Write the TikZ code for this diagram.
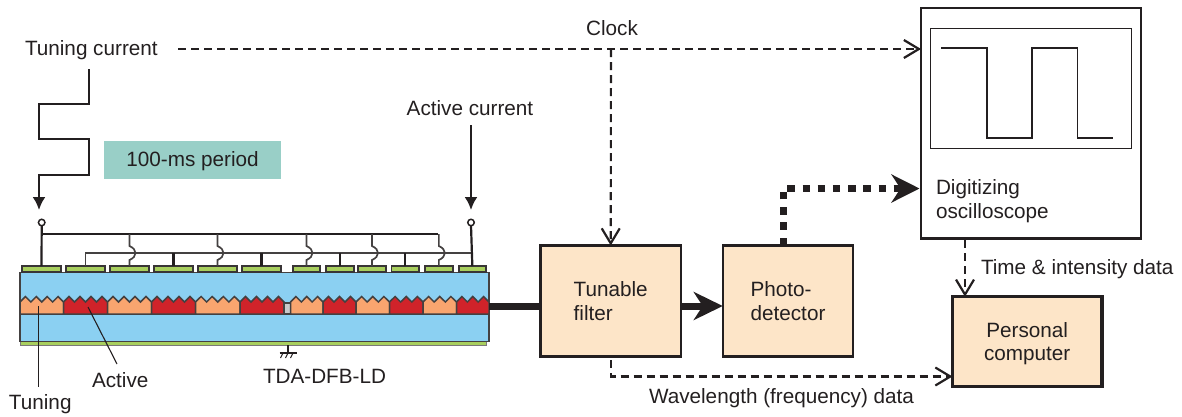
\documentclass[tikz,border=0pt]{standalone}
\usepackage{fontspec}
\setmainfont{Liberation Sans}
\usetikzlibrary{arrows.meta,calc}
\definecolor{ink}{HTML}{231F20}
\definecolor{boxfill}{HTML}{FDE5C8}
\definecolor{tealfill}{HTML}{99CFC7}
\definecolor{chipblue}{HTML}{8BD0F2}
\definecolor{padgreen}{HTML}{A8CF5E}
\definecolor{tuneorange}{HTML}{F9A56F}
\definecolor{activered}{HTML}{D0232A}
\definecolor{gapgrey}{HTML}{C8C9CB}
\tikzset{
  every node/.style={inner sep=0pt,outer sep=0pt,text=ink,font=\fontsize{20.7}{23.5}\selectfont},
  label/.style={anchor=west,align=left},
  procbox/.style={draw=ink,line width=2.2pt,fill=boxfill,align=left},
  padbox/.style={draw=ink!90,line width=1.6pt,fill=padgreen},
  terminal/.style={circle,draw=ink,line width=1.5pt,fill=white,minimum size=6.5pt},
  dataflow/.style={draw=ink,line width=2.1pt,dash pattern=on 8pt off 5pt,
    -{Straight Barb[length=15pt,width=18pt,line width=2.2pt]}},
  wire/.style={draw=ink,line width=2.2pt},
  thinwire/.style={draw=ink!85,line width=1.7pt},
  solidtip/.style={-{Latex[length=13pt,width=13pt]}},
  segline/.style={draw=ink!85,line width=1.5pt,line join=miter},
}
\newcommand{\gratseg}[4]{%
  \pgfmathsetmacro{\segstep}{(#2-#1)/#3}
  \filldraw[segline,fill=#4] (#1,314) -- (#1,302)
    \foreach \i in {1,...,#3} { -- ({#1+(\i-0.5)*\segstep},296.5) -- ({#1+\i*\segstep},302) }
    -- (#2,314) -- cycle;
}
\newcommand{\jumpwire}[1]{%
  \draw[thinwire] (pad#1.north) -- ++(0,-6) .. controls +(8,-3.5) and +(8,3.5) .. ++(0,-14)
    -- (pad#1.north |- topbus);
}
\begin{document}
\begin{tikzpicture}[x=1pt,y=-1pt]
\useasboundingbox (0,0) rectangle (1182,416);

% chip body
\filldraw[fill=padgreen,draw=ink!60,line width=0.6pt] (20,341) rectangle (486,345);
\filldraw[draw=ink!85,line width=1.5pt,fill=chipblue] (20,272.5) rectangle (489,341.5);
\gratseg{20}{63.5}{4}{tuneorange}
\gratseg{63.5}{107.5}{4}{activered}
\gratseg{107.5}{151.5}{4}{tuneorange}
\gratseg{151.5}{195.5}{4}{activered}
\gratseg{195.5}{240}{4}{tuneorange}
\gratseg{240}{284}{4}{activered}
\filldraw[segline,fill=gapgrey] (284,303) rectangle (290.5,314);
\gratseg{290.5}{323}{3}{tuneorange}
\gratseg{323}{356}{3}{activered}
\gratseg{356}{389.5}{3}{tuneorange}
\gratseg{389.5}{423}{3}{activered}
\gratseg{423}{456.5}{3}{tuneorange}
\gratseg{456.5}{489}{3}{activered}

% contact pads
\foreach \n/\xa/\xb in {1/22/61,2/66/105,3/110/149,4/154/193,5/198/237,6/242/281,
    7/293/320,8/326/354,9/358/386,10/391.5/419,11/425/452.7,12/458.7/486}{
  \node[padbox,minimum width={(\xb-\xa)*1pt},minimum height=6pt] (pad\n) at ({(\xa+\xb)/2},269) {};
}
\node[terminal] (termL) at (41.7,222.5) {};
\node[terminal] (termR) at (471,222.5) {};
\coordinate (topbus) at (41.7,234);
\coordinate (topbusEnd) at (437.7,234);
\coordinate (lowbus) at (85.5,253);

% bus wires
\draw[wire] (termL.south) -- (pad1.north);
\draw[wire] (termR.south) -- (pad12.north);
\draw[wire] (topbus) -- (topbusEnd);
\draw[thinwire] (pad2.north) -- (lowbus) -- (lowbus -| termR);
\foreach \n in {4,6,8,10}{ \draw[wire] (pad\n.north) -- (pad\n.north |- lowbus); }
\foreach \n in {3,5,7,9,11}{ \jumpwire{\n} }

% ground
\coordinate (gndtop) at (288,345);
\coordinate (gndbar) at (288,353);
\draw[ink,line width=1.3pt] (gndtop) -- (gndbar);
\draw[ink,line width=1.3pt] ($(gndbar)+(-8.5,0)$) -- ($(gndbar)+(9,0)$);
\foreach \dx in {-5,0,5}{ \draw[ink,line width=1pt] ($(gndbar)+(\dx,0)$) -- ++(-2.5,5); }

% labels on left
\node[label] (tuningcur) at (25,50.5) {Tuning current};
\coordinate (wavetop) at (89,69);
\node[fill=tealfill,minimum width=177pt,minimum height=38pt] (period) at (192.5,160) {};
\node[anchor=center] (periodlab) at (192.5,161.5) {100-ms period};
\draw[wire,solidtip] (wavetop) -- (89,104) -- (39,104) -- (39,139) -- (89,139) -- (89,175) -- (39,175) -- (39,210);
\node[anchor=center] (activecur) at (470,108) {Active current};
\coordinate (actstart) at (471,125);
\coordinate (actend) at (471,210);
\draw[wire,solidtip] (actstart) -- (actend);

\node[label] (tuninglab) at (9,404.5) {Tuning};
\node[label] (activelab) at (92,380) {Active};
\node[label] (tdalab) at (263,376) {TDA-DFB-LD};
\coordinate (tunepoint) at (38.5,306);
\coordinate (tunefoot) at (38.5,387);
\coordinate (actpoint) at (88,307);
\coordinate (actfoot) at (117,364);
\draw[ink,line width=1.1pt] (tunepoint) -- (tunefoot);
\draw[ink,line width=1.1pt] (actpoint) -- (actfoot);

% process boxes
\node[procbox,minimum width=140.5pt,minimum height=111pt] (filter) at (610.7,301) {Tunable\\filter};
\node[procbox,minimum width=130.5pt,minimum height=111pt] (photo) at (788,301) {Photo-\\detector};
\node[procbox,line width=3.4pt,minimum width=149.5pt,minimum height=90pt] (pc) at (1027.2,341.7) {};
\node[align=center,anchor=center] (pclab) at (1027.2,343.5) {Personal\\computer};

% oscilloscope
\node[draw=ink,fill=white,line width=2.2pt,minimum width=220pt,minimum height=230.5pt] (osc) at (1031,123.3) {};
\node[draw=ink,line width=1pt,minimum width=200.5pt,minimum height=120pt] (screen) at (1031.2,88) {};
\draw[ink,line width=1.9pt] (941,48) -- (987,48) -- (987,138) -- (1032,138) -- (1032,48) -- (1077.5,48) -- (1077.5,138) -- (1113,138);
\node[label] (osclab) at (936,201) {Digitizing\\oscilloscope};

% optical path
\draw[ink,line width=7pt] (489,306) -- (filter.west |- 0,306);
\coordinate (filterout) at (filter.east |- 0,306);
\coordinate (photoin) at (photo.west |- 0,306);
\draw[ink,line width=7pt,-{Stealth[length=29pt,width=28pt,inset=9pt]}] (filterout) -- (photoin);
\coordinate (photoup) at (783,245);
\coordinate (oscin) at (919.5,188.5);
\draw[ink,line width=7pt,dash pattern=on 7.5pt off 7.7pt,-{Stealth[length=28pt,width=28pt,inset=9pt]}] (photoup) -- (photoup |- oscin) -- (oscin);

% data paths
\coordinate (clockstart) at (178,49);
\coordinate (clockend) at (osc.west |- clockstart);
\coordinate (clockbranch) at (611,49);
\draw[dataflow] (clockstart) -- (clockend);
\draw[dataflow] (clockbranch) -- (filter.north);
\node[anchor=center] (clocklab) at (612,28) {Clock};

\coordinate (wlstart) at (611,360);
\coordinate (wlcorner) at (611,376.5);
\draw[dataflow] (wlstart) -- (wlcorner) -- (pc.west |- wlcorner);
\node[label] (wllab) at (649,398.5) {Wavelength (frequency) data};

\coordinate (tistart) at (965,240);
\draw[dataflow] (tistart) -- (tistart |- pc.north);
\node[label] (tilab) at (981,269.5) {Time \& intensity data};
\end{tikzpicture}
\end{document}
